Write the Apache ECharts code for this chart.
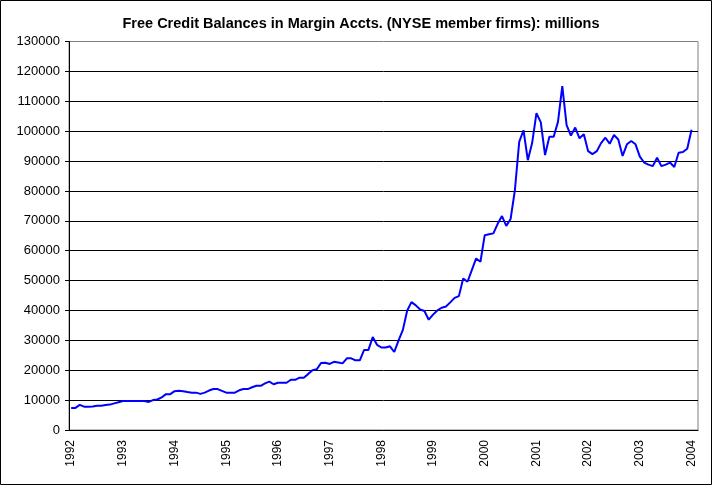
<!DOCTYPE html>
<html>
<head>
<meta charset="utf-8">
<title>Free Credit Balances</title>
<script src="https://cdn.jsdelivr.net/npm/echarts@6/dist/echarts.min.js"></script>
<style>
    html, body { margin: 0; padding: 0; background: #fff; }
    #chart { width: 714px; height: 486px; }
</style>
</head>
<body>
<div id="chart"></div>
<script>
// 年份（x轴标签）
let years = ['1992', '1993', '1994', '1995', '1996', '1997', '1998', '1999', '2000', '2001', '2002', '2003', '2004'];
// 每月数值（百万）
let v1992 = [7400, 7400, 8400, 7800, 7800, 7900, 8100, 8100, 8400, 8500, 8900, 9300];
let v1993 = [9700, 9700, 9700, 9700, 9700, 9700, 9400, 10000, 10200, 10900, 12000, 12000];
let v1994 = [13000, 13100, 13000, 12700, 12500, 12500, 12100, 12500, 13200, 13700, 13700, 13100];
let v1995 = [12500, 12500, 12500, 13300, 13700, 13700, 14300, 14800, 14800, 15600, 16200, 15300];
let v1996 = [15800, 15800, 15800, 16800, 16800, 17500, 17500, 18700, 20000, 20300, 22400, 22500];
let v1997 = [22100, 22800, 22600, 22300, 24000, 24000, 23300, 23300, 26800, 26800, 31100, 28500];
let v1998 = [27600, 27600, 28000, 26100, 30000, 33500, 40000, 42800, 41700, 40300, 39800, 36900];
let v1999 = [38600, 40000, 40900, 41300, 42700, 44200, 44800, 50700, 49600, 53500, 57400, 56300];
let v2000 = [65200, 65500, 65800, 69000, 71600, 68300, 70600, 80300, 96400, 100300, 90300, 96000];
let v2001 = [106000, 103000, 92000, 98100, 98100, 103100, 115100, 102000, 98500, 101200, 97600, 99000];
let v2002 = [93300, 92300, 93300, 96000, 97800, 95800, 98700, 97200, 91700, 95600, 96700, 95600];
let v2003 = [91500, 89500, 88800, 88300, 91100, 88300, 88800, 89500, 88000, 92800, 93000, 94100];
let v2004 = [100500];

let values = [].concat(v1992, v1993, v1994, v1995, v1996, v1997, v1998, v1999, v2000, v2001, v2002, v2003, v2004);

// 月份类目：每年12个月，末尾多留一个空位
let categories = [];
for (let y of years) {
    for (let m = 1; m <= 12; m++) {
        categories.push(y + '-' + (m < 10 ? '0' + m : m));
        if (y === '2004' && m === 2) break;
    }
}

let chart = echarts.init(document.getElementById('chart'));
let option = {
    backgroundColor: '#fff',
    animation: false,
    title: {
        text: 'Free Credit Balances in Margin Accts. (NYSE member firms): millions',
        left: 356,
        top: 11,
        textAlign: 'center',
        textStyle: {
            color: '#000',
            fontFamily: 'Liberation Sans, Arial, sans-serif',
            fontWeight: 'bold',
            fontSize: 14.5
        }
    },
    grid: {
        left: 69,
        right: 16,
        top: 41.5,
        bottom: 56,
        show: true,
        borderColor: '#808080',
        borderWidth: 1,
        backgroundColor: '#fff'
    },
    xAxis: {
        type: 'category',
        data: categories,
        boundaryGap: true,
        axisLine: { lineStyle: { color: '#000', width: 1 } },
        axisTick: { show: false },
        splitLine: { show: false },
        axisLabel: {
            interval: 11,
            rotate: 90,
            margin: 10,
            color: '#000',
            fontFamily: 'Liberation Sans, Arial, sans-serif',
            fontSize: 12,
            formatter: function (v) { return v.slice(0, 4); }
        }
    },
    yAxis: {
        type: 'value',
        min: 0,
        max: 130000,
        interval: 10000,
        axisLine: { show: true, lineStyle: { color: '#000', width: 1 } },
        axisTick: { show: true, length: 4, lineStyle: { color: '#000' } },
        splitLine: { show: true, showMaxLine: false, lineStyle: { color: '#000', width: 1 } },
        axisLabel: {
            margin: 9,
            color: '#000',
            fontFamily: 'Liberation Sans, Arial, sans-serif',
            fontSize: 13,
            formatter: function (v) { return String(v); }
        }
    },
    graphic: [{
        type: 'rect',
        shape: { x: 0.5, y: 0.5, width: 711, height: 484 },
        style: { fill: 'none', stroke: '#000', lineWidth: 1 },
        silent: true
    }],
    series: [{
        type: 'line',
        data: values,
        showSymbol: false,
        symbol: 'none',
        lineStyle: { color: '#0000ff', width: 2 },
        itemStyle: { color: '#0000ff' }
    }]
};
chart.setOption(option);
</script>
</body>
</html>
